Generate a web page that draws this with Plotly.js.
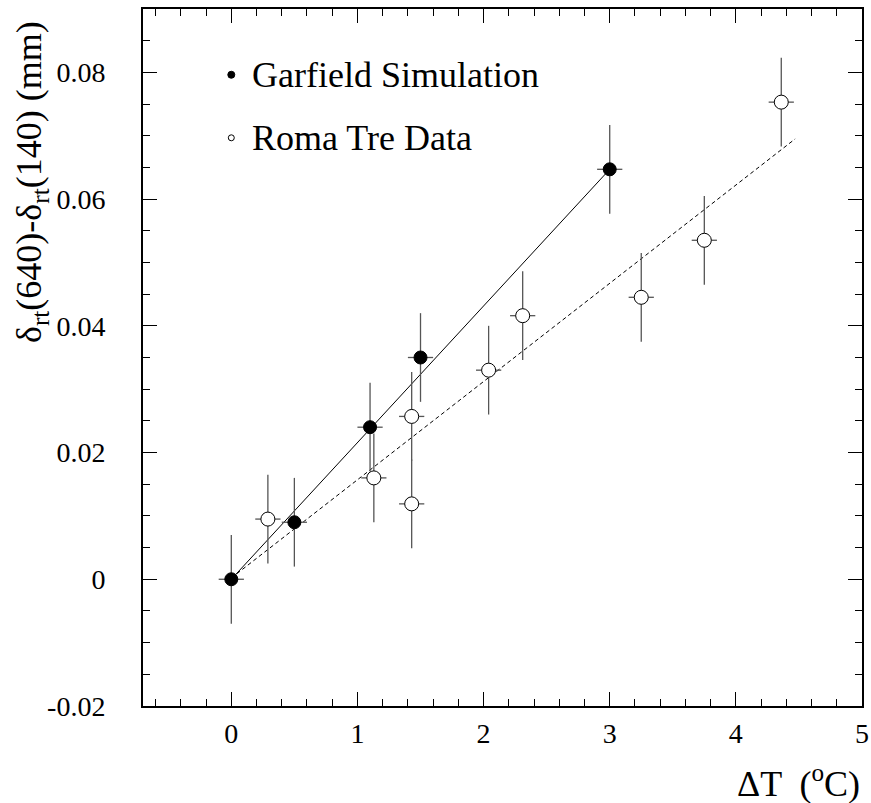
<!DOCTYPE html>
<html>
<head>
<meta charset="utf-8">
<script src="https://cdn.plot.ly/plotly-3.0.1.min.js"></script>
<style>html,body{margin:0;padding:0;background:#fff;}#chart{width:871px;height:803px;}</style>
</head>
<body>
<div id="chart"></div>
<script>
// Garfield simulation (filled circles)
const garfieldX = [0, 0.5, 1.1, 1.5, 3.0];
const garfieldY = [0, 0.009, 0.024, 0.035, 0.0647];
const garfieldErrX = [0.1, 0.1, 0.1, 0.1, 0.1];
const garfieldErrY = [0.007, 0.007, 0.007, 0.007, 0.007];

// Roma Tre data (open circles)
const romaX = [0.29, 1.13, 1.43, 1.43, 2.04, 2.31, 3.25, 3.75, 4.36];
const romaY = [0.0095, 0.016, 0.0257, 0.0119, 0.033, 0.0416, 0.0445, 0.0535, 0.0753];
const romaErrX = [0.1, 0.1, 0.1, 0.1, 0.1, 0.1, 0.1, 0.1, 0.1];
const romaErrY = [0.007, 0.007, 0.007, 0.007, 0.007, 0.007, 0.007, 0.007, 0.007];

// Linear fits
const fitGarfieldX = [0, 3.0];
const fitGarfieldY = [0, 0.0647];
const fitRomaX = [0, 4.47];
const fitRomaY = [0.0002, 0.0695];

// Tick labels
const xTickVals = [0, 1, 2, 3, 4, 5];
const xTickText = ['0', '1', '2', '3', '4', '5'];
const yTickVals = [-0.02, 0, 0.02, 0.04, 0.06, 0.08];
const yTickText = ['-0.02', '0', '0.02', '0.04', '0.06', '0.08'];

const legendNames = ['Garfield Simulation', 'Roma Tre Data'];

const FONT = '"Liberation Serif", "Times New Roman", serif';
const errStyle = {color: '#555', thickness: 1.3, width: 0};

const traces = [
  {x: fitGarfieldX, y: fitGarfieldY, mode: 'lines', line: {color: '#000', width: 1}, showlegend: false, hoverinfo: 'skip'},
  {x: fitRomaX, y: fitRomaY, mode: 'lines', line: {color: '#000', width: 1, dash: '4px,3px'}, showlegend: false, hoverinfo: 'skip'},
  {x: garfieldX, y: garfieldY, mode: 'markers', name: legendNames[0], showlegend: false,
   error_x: Object.assign({type: 'data', array: garfieldErrX, visible: true}, errStyle),
   error_y: Object.assign({type: 'data', array: garfieldErrY, visible: true}, errStyle),
   marker: {symbol: 'circle', size: 13, color: '#000', line: {color: '#000', width: 1}}},
  {x: romaX, y: romaY, mode: 'markers', name: legendNames[1], showlegend: false,
   error_x: Object.assign({type: 'data', array: romaErrX, visible: true}, errStyle),
   error_y: Object.assign({type: 'data', array: romaErrY, visible: true}, errStyle),
   marker: {symbol: 'circle', size: 14, color: '#fff', line: {color: '#000', width: 1}}}
];

const axisCommon = {
  showgrid: false, zeroline: false, showline: true, linecolor: '#000', linewidth: 2,
  mirror: 'allticks', ticks: 'inside', ticklen: 14, tickwidth: 1, tickcolor: '#000',
  tickfont: {family: FONT, size: 28, color: '#000'}, tickmode: 'array', fixedrange: true
};

const legX = (231 - 142.7) / 719;
const legTextX = (250 - 142.7) / 719;
const legY1 = 1 - (75 - 9.3) / 696.4;
const legY2 = 1 - (138 - 9.3) / 696.4;

const layout = {
  width: 871, height: 803,
  margin: {l: 143, r: 9, t: 9, b: 97, pad: 0},
  paper_bgcolor: '#fff', plot_bgcolor: '#fff',
  font: {family: FONT, color: '#000'},
  showlegend: false,
  xaxis: Object.assign({}, axisCommon, {
    range: [-0.7, 5.0], tickvals: xTickVals, ticktext: xTickText, ticklabelstandoff: 1,
    minor: {tickmode: 'linear', tick0: 0, dtick: 0.2, ticks: 'inside', ticklen: 7, tickcolor: '#000', tickwidth: 1, showgrid: false}
  }),
  yaxis: Object.assign({}, axisCommon, {
    range: [-0.02, 0.09], tickvals: yTickVals, ticktext: yTickText, ticklabelstandoff: 30,
    minor: {tickmode: 'linear', tick0: 0, dtick: 0.005, ticks: 'inside', ticklen: 7, tickcolor: '#000', tickwidth: 1, showgrid: false}
  }),
  annotations: [
    {text: legendNames[0], xref: 'paper', yref: 'paper', x: legTextX, y: legY1, xanchor: 'left', yanchor: 'middle', showarrow: false, font: {family: FONT, size: 36, color: '#000'}},
    {text: legendNames[1], xref: 'paper', yref: 'paper', x: legTextX, y: legY2, xanchor: 'left', yanchor: 'middle', showarrow: false, font: {family: FONT, size: 36, color: '#000'}},
    {text: 'ΔT  (<sup>o</sup>C)', xref: 'paper', yref: 'paper', x: 1.0, y: -0.144, xanchor: 'right', yanchor: 'bottom', showarrow: false, font: {family: FONT, size: 36, color: '#000'}},
    {text: 'δ<sub>rt</sub>(640)-δ<sub>rt</sub>(140) (mm)', xref: 'paper', yref: 'paper', x: -0.155, y: 0.985, xanchor: 'center', yanchor: 'top', textangle: -90, showarrow: false, font: {family: FONT, size: 36, color: '#000'}}
  ],
  shapes: [
    {type: 'circle', xref: 'paper', yref: 'paper', xsizemode: 'pixel', ysizemode: 'pixel', xanchor: legX, yanchor: legY1, x0: -3.5, x1: 3.5, y0: -3.5, y1: 3.5, fillcolor: '#000', line: {color: '#000', width: 1}},
    {type: 'circle', xref: 'paper', yref: 'paper', xsizemode: 'pixel', ysizemode: 'pixel', xanchor: legX, yanchor: legY2, x0: -3, x1: 3, y0: -3, y1: 3, fillcolor: '#fff', line: {color: '#000', width: 1}}
  ]
};

Plotly.newPlot('chart', traces, layout, {displayModeBar: false, staticPlot: true});
</script>
</body>
</html>
